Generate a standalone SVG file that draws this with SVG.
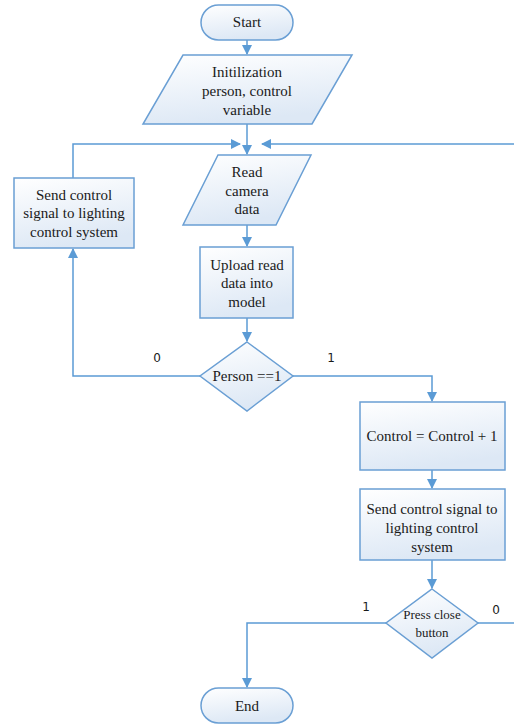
<svg xmlns="http://www.w3.org/2000/svg" width="514" height="725" viewBox="0 0 514 725">
<defs>
<linearGradient id="g" x1="0" y1="0" x2="0.3" y2="1">
<stop offset="0" stop-color="#ffffff"/>
<stop offset="1" stop-color="#dde8f5"/>
</linearGradient>
<marker id="ah" markerWidth="10" markerHeight="10" refX="9" refY="5" orient="auto" markerUnits="userSpaceOnUse">
<path d="M0,0 L10,5 L0,10 z" fill="#5b9bd5"/>
</marker>
<style>
.s{fill:url(#g);stroke:#6a9fd4;stroke-width:1.5}
.t{font-size:15px;fill:#1a1a1a;text-anchor:middle}
.l{font-size:12px;fill:#1a1a1a;text-anchor:middle}
.c{fill:none;stroke:#5b9bd5;stroke-width:1.5}
</style>
</defs>
<g id="connectors">
<path class="c" d="M247,40 V54" marker-end="url(#ah)"/>
<path class="c" d="M247,124 V154" marker-end="url(#ah)"/>
<path class="c" d="M73,178 V144 H240" marker-end="url(#ah)"/>
<path class="c" d="M514,144 H262" marker-end="url(#ah)"/>
<path class="c" d="M247,225 V246" marker-end="url(#ah)"/>
<path class="c" d="M247,318 V341" marker-end="url(#ah)"/>
<path class="c" d="M200,376 H73 V249" marker-end="url(#ah)"/>
<path class="c" d="M293,376 H432 V401" marker-end="url(#ah)"/>
<path class="c" d="M432,470 V488" marker-end="url(#ah)"/>
<path class="c" d="M432,560 V588" marker-end="url(#ah)"/>
<path class="c" d="M386,623 H247 V687" marker-end="url(#ah)"/>
<path class="c" d="M478,623 H514"/>
<g font-family="'DejaVu Sans', sans-serif">
<text class="l" x="157" y="362">0</text>
<text class="l" x="331" y="362">1</text>
<text class="l" x="366" y="611">1</text>
<text class="l" x="496" y="614">0</text>
</g>
</g>
<g font-family="'Liberation Serif', 'Times New Roman', serif">
<g id="start">
<rect class="s" x="201" y="5" width="92" height="35" rx="17.5"/>
<text class="t" x="247" y="27">Start</text>
</g>
<g id="init">
<polygon class="s" points="183,55 352,55 312,124 143,124"/>
<text class="t" x="247" y="77">Initilization</text>
<text class="t" x="247" y="96">person, control</text>
<text class="t" x="247" y="115">variable</text>
</g>
<g id="read">
<polygon class="s" points="218,155 311,155 276,225 183,225"/>
<text class="t" x="247" y="177">Read</text>
<text class="t" x="247" y="196">camera</text>
<text class="t" x="247" y="214">data</text>
</g>
<g id="send1">
<rect class="s" x="14" y="178" width="120" height="70"/>
<text class="t" x="74" y="200">Send control</text>
<text class="t" x="74" y="218">signal to lighting</text>
<text class="t" x="74" y="237">control system</text>
</g>
<g id="upload">
<rect class="s" x="200" y="247" width="93" height="71"/>
<text class="t" x="247" y="270">Upload read</text>
<text class="t" x="247" y="288">data into</text>
<text class="t" x="247" y="307">model</text>
</g>
<g id="person">
<polygon class="s" points="247,342 293,376 247,411 200,376"/>
<text class="t" x="247" y="381">Person ==1</text>
</g>
<g id="control">
<rect class="s" x="360" y="402" width="145" height="68"/>
<text class="t" x="432" y="441">Control = Control + 1</text>
</g>
<g id="send2">
<rect class="s" x="360" y="489" width="145" height="71"/>
<text class="t" x="432" y="514">Send control signal to</text>
<text class="t" x="432" y="533">lighting control</text>
<text class="t" x="432" y="552">system</text>
</g>
<g id="press">
<polygon class="s" points="432,589 478,623 432,658 386,623"/>
<text class="t" x="432" y="619" style="font-size:13px">Press close</text>
<text class="t" x="432" y="637" style="font-size:13px">button</text>
</g>
<g id="end">
<rect class="s" x="201" y="688" width="92" height="35" rx="17.5"/>
<text class="t" x="247" y="711">End</text>
</g>
</g>
</svg>
